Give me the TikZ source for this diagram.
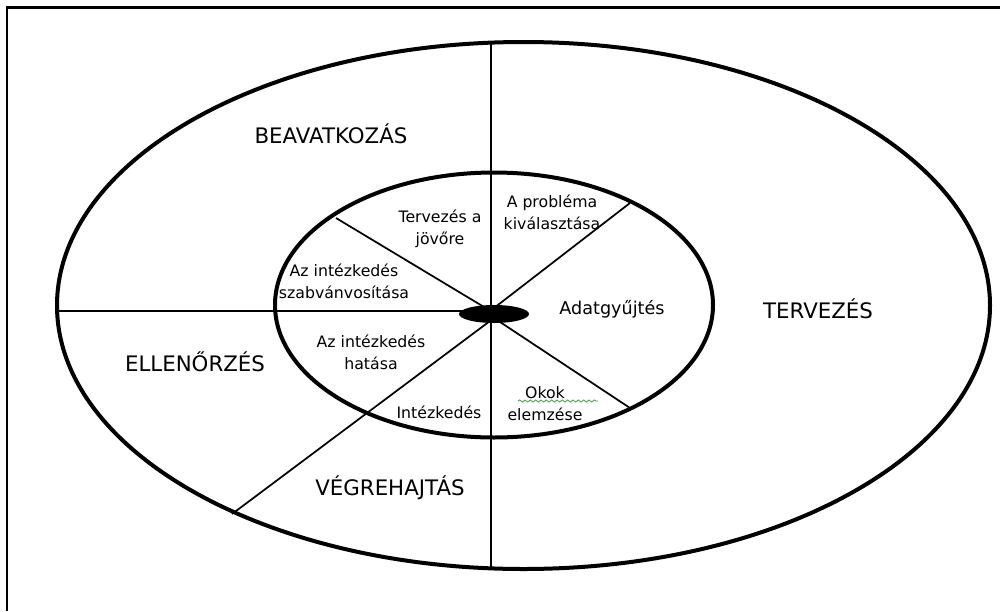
\documentclass[tikz,border=0pt]{standalone}
\usepackage{fontspec}
\setmainfont{DejaVu Sans}
\usetikzlibrary{decorations.pathmorphing}
\definecolor{squig}{RGB}{60,160,60}
\begin{document}
\begin{tikzpicture}[x=0.75pt,y=-0.75pt,
  ring/.style={line width=3pt},
  spoke/.style={line width=1.3pt},
  frameline/.style={line width=1.9pt},
  big/.style={font=\fontsize{16}{19}\selectfont, inner sep=0pt},
  small/.style={font=\fontsize{11.8}{16.5}\selectfont, align=center, inner sep=0pt},
]
\useasboundingbox (0,0) rectangle (1000,611);
% frame (top and left only)
\draw[frameline] (7,611) -- (7,7.5) -- (1000,7.5);

% coordinates
\coordinate (c) at (494,314);
\coordinate (vtop) at (491,42.6);
\coordinate (vbot) at (491,568.5);
\coordinate (hl) at (57,311);
\coordinate (hr) at (494,311);
\coordinate (ul) at (336,218);
\coordinate (ulc) at (494,313);
\coordinate (ur) at (630,203);
\coordinate (urc) at (494,308);
\coordinate (lr) at (630,408);
\coordinate (lrc) at (494,318);
\coordinate (ll) at (232,514);
\coordinate (llc) at (494,318);

% spokes
\draw[spoke] (vtop) -- (vbot);
\draw[spoke] (hl) -- (hr);
\draw[spoke] (ul) -- (ulc);
\draw[spoke] (ur) -- (urc);
\draw[spoke] (lr) -- (lrc);
\draw[spoke] (ll) -- (llc);

% ellipses
\draw[ring] (523.5,305.5) ellipse [x radius=466.5, y radius=263.5];
\draw[ring] (494,305) ellipse [x radius=219, y radius=132.5];
\fill (c) ellipse [x radius=35, y radius=9];

% big labels
\node[big] (beav) at (331,134) {BEAVATKOZÁS};
\node[big] (terv) at (818,309) {TERVEZÉS};
\node[big] (ell) at (195,362) {ELLENŐRZÉS};
\node[big] (vegr) at (390,488) {VÉGREHAJTÁS};

% small labels
\node[small] (tj) at (440,229) {Tervezés a\\jövőre};
\node[small] (ap) at (552,212) {A probléma\\kiválasztása};
\node[small] (azsz) at (344,281) {Az intézkedés\\szabvánvosítása};
\node[small, font=\fontsize{13.2}{16.5}\selectfont] (adat) at (612,309) {Adatgyűjtés};
\node[small] (azh) at (371,352) {Az intézkedés\\hatása};
\node[small] (int) at (439,412) {Intézkedés};
\node[small] (okok) at (545,404) {Okok\\elemzése};
\draw[squig, line width=0.6pt, decorate, decoration={snake, amplitude=0.8, segment length=4}] (518,401) -- (598,401);
\end{tikzpicture}
\end{document}
